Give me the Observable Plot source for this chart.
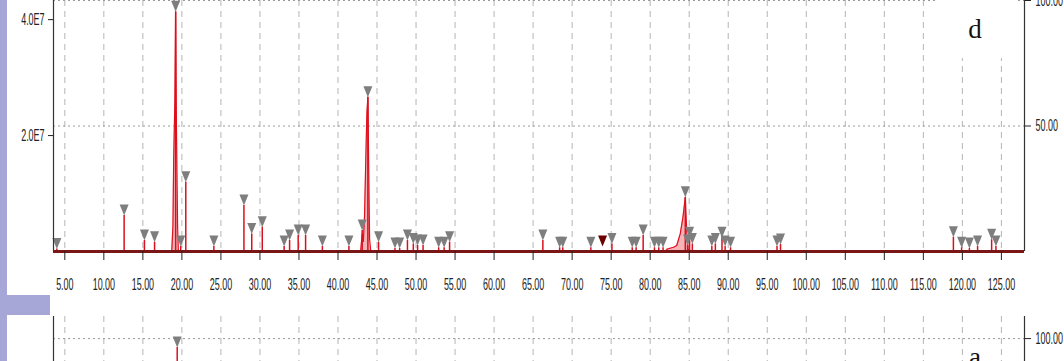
<!DOCTYPE html>
<html>
<head>
<meta charset="utf-8">
<script src="https://cdn.jsdelivr.net/npm/d3@7"></script>
<script src="https://cdn.jsdelivr.net/npm/@observablehq/plot@0.6"></script>
<style>
  html, body { margin: 0; padding: 0; background: #fff; }
  #stage { position: relative; width: 1064px; height: 361px; overflow: hidden; background: #fff; }
  .band { position: absolute; background: #a7a7d7; }
  .plotbox { position: absolute; left: 0; }
  .tag { position: absolute; font-family: "Liberation Serif", "Times New Roman", serif; font-size: 27px; line-height: 27px; color: #111; text-align: center; }
</style>
</head>
<body>
<div id="stage">
  <div class="band" style="left:0;top:0;width:7px;height:361px"></div>
  <div class="band" style="left:0;top:295px;width:50px;height:20px"></div>
  <div id="top" class="plotbox" style="top:-10px"></div>
  <div class="tag" style="left:935px;top:0;width:80px;height:58px;background:#fff"><span style="position:relative;top:16px">d</span></div>
  <div id="bottom" class="plotbox" style="top:312px"></div>
  <div class="tag" style="left:935px;top:344px;width:80px">a</div>
</div>
<script>
// ---------- data ----------
const fullScaleCounts = 4.33e7;            // counts at 100 % (right axis)
const xDomain = [3.55, 127.96];            // retention time, min
const xTickValues = [5,10,15,20,25,30,35,40,45,50,55,60,65,70,75,80,85,90,95,100,105,110,115,120,125];
const leftTickCounts = [2.0e7, 4.0e7];
const rightTickPct = [50, 100];

// peak apex (retention time, % of full scale) — each marked with a triangle
const peakRT  = [3.98, 12.6, 15.2, 16.5, 19.2, 19.85, 20.5, 24.1, 27.95, 28.95, 30.3, 33.1, 33.8, 34.9, 35.85, 38.0, 41.4, 43.1, 43.83, 45.2,
                 47.3, 47.9, 48.9, 49.65, 50.2, 50.9, 52.9, 53.6, 54.3, 66.25, 68.4, 68.8, 72.4, 75.1, 77.7, 78.2, 79.1, 80.55, 81.1, 81.65,
                 84.5, 84.8, 85.05, 85.4, 87.9, 88.35, 89.2, 89.6, 90.3, 96.25, 96.7, 118.85, 119.9, 120.9, 121.95, 123.75, 124.3];
const peakPct = [1.0, 14.3, 4.4, 3.7, 95.5, 2.0, 27.6, 2.0, 18.3, 7.0, 9.7, 2.0, 4.4, 6.4, 6.4, 2.0, 2.0, 8.4, 61.5, 3.7,
                 1.2, 1.2, 4.4, 3.0, 2.4, 2.4, 1.5, 1.5, 3.7, 4.4, 1.5, 1.5, 1.5, 3.0, 1.5, 1.5, 6.4, 1.5, 1.5, 1.5,
                 21.6, 2.4, 5.5, 3.0, 2.0, 3.0, 5.5, 2.0, 1.5, 2.0, 2.8, 5.7, 1.5, 1.2, 2.0, 4.7, 2.0];
// selected peak (dark marker)
const selectedRT  = [73.9];
const selectedPct = [2.0];

// traced profiles of the three wide peaks
const profile1RT  = [18.7, 18.85, 18.95, 19.1, 19.2, 19.3, 19.45, 19.55];
const profile1Pct = [0, 10, 37, 60, 95.5, 50, 10, 0];
const profile2RT  = [42.9, 43.1, 43.25, 43.4, 43.55, 43.7, 43.83, 43.95, 44.05, 44.2];
const profile2Pct = [0, 7, 4, 14, 35, 55, 61.5, 30, 5, 0];
const profile3RT  = [81.9, 82.2, 83.0, 83.4, 83.85, 84.2, 84.5, 84.7, 84.85, 85.0];
const profile3Pct = [0, 1.0, 1.7, 2.4, 7, 13.7, 21.6, 7, 1, 0];

// lower panel (only its top edge is visible)
const panel2RT  = [19.4];
const panel2Pct = [96.4];
const panel2Domain = [0, 108.8];
const panel2TickPct = [100];

// ---------- tables ----------
const peaks = peakRT.map((t, i) => ({t, p: peakPct[i]}));
const selected = selectedRT.map((t, i) => ({t, p: selectedPct[i]}));
const profiles = [
  ...profile1RT.map((t, i) => ({id: "a", t, p: profile1Pct[i]})),
  ...profile2RT.map((t, i) => ({id: "b", t, p: profile2Pct[i]})),
  ...profile3RT.map((t, i) => ({id: "c", t, p: profile3Pct[i]}))
];
const panel2 = panel2RT.map((t, i) => ({t, p: panel2Pct[i]}));

// downward triangle with its tip on the apex
const downTri = {
  draw(ctx) { ctx.moveTo(-4.5, -11); ctx.lineTo(4.5, -11); ctx.lineTo(0, 0); ctx.closePath(); }
};

const FS = 16;
const baseStyle = {fontFamily: "'Liberation Sans', Arial, sans-serif", fontSize: FS + "px", color: "#222", background: "transparent", overflow: "visible"};

const topPlot = Plot.plot({
  width: 1064, height: 305,
  marginTop: 10, marginBottom: 44, marginLeft: 53, marginRight: 40,
  x: {domain: xDomain, label: null},
  y: {domain: [0, 100], label: null},
  style: baseStyle,
  marks: [
    Plot.ruleX(xTickValues, {stroke: "#b5b5b5", strokeDasharray: "6,5"}),
    Plot.ruleY(rightTickPct, {stroke: "#9a9a9a", strokeDasharray: "2,3"}),
    Plot.areaY(profiles, {x: "t", y: "p", z: "id", fill: "#f6b4b9"}),
    Plot.lineY(profiles, {x: "t", y: "p", z: "id", stroke: "#e0101e", strokeWidth: 1.2}),
    Plot.ruleX(peaks, {x: "t", y1: 0, y2: "p", stroke: "#d8101e", strokeWidth: 1.5}),
    Plot.ruleY([0], {stroke: "#7a1616", strokeWidth: 3}),
    Plot.dot(peaks, {x: "t", y: "p", symbol: downTri, fill: "#7e7e7e"}),
    Plot.dot(selected, {x: "t", y: "p", symbol: downTri, fill: "#6a0000"}),
    Plot.ruleX(xDomain, {stroke: "#333", strokeWidth: 1.2}),
    Plot.axisY({anchor: "left", ticks: leftTickCounts.map(c => c / fullScaleCounts * 100),
      tickFormat: d => (d * fullScaleCounts / 100).toExponential(1).toUpperCase().replace("+", ""),
      tickSize: 5, tickPadding: 4, fontSize: FS}),
    Plot.axisY({anchor: "right", ticks: rightTickPct, tickFormat: d => d.toFixed(2), tickSize: 6, tickPadding: 5, fontSize: FS}),
    Plot.axisX({anchor: "bottom", ticks: xTickValues, tickFormat: d => d.toFixed(2), tickSize: 9, tickPadding: 18, fontSize: FS})
  ]
});
document.getElementById("top").appendChild(topPlot);

const bottomPlot = Plot.plot({
  width: 1064, height: 300,
  marginTop: 4, marginBottom: 23, marginLeft: 53, marginRight: 40,
  x: {domain: xDomain, label: null},
  y: {domain: panel2Domain, label: null},
  style: baseStyle,
  marks: [
    Plot.ruleX(xTickValues, {stroke: "#b5b5b5", strokeDasharray: "6,5"}),
    Plot.ruleY(panel2TickPct, {stroke: "#9a9a9a", strokeDasharray: "2,3"}),
    Plot.ruleX(panel2, {x: "t", y1: 0, y2: "p", stroke: "#e0101e", strokeWidth: 1.5}),
    Plot.dot(panel2, {x: "t", y: "p", symbol: downTri, fill: "#7e7e7e"}),
    Plot.ruleX(xDomain, {stroke: "#333", strokeWidth: 1.2}),
    Plot.axisY({anchor: "right", ticks: panel2TickPct, tickFormat: d => d.toFixed(2), tickSize: 6, tickPadding: 5, fontSize: FS})
  ]
});
document.getElementById("bottom").appendChild(bottomPlot);

// the screenshot's tick labels are horizontally condensed: squeeze each label about its anchor
const SVGNS = "http://www.w3.org/2000/svg";
for (const svg of [topPlot, bottomPlot]) {
  Array.from(svg.querySelectorAll("text")).forEach(t => {
    const r = t.getBoundingClientRect();
    if (!r.width) return;
    const anchor = getComputedStyle(t).textAnchor;
    const sx = anchor === "middle" ? r.left + r.width / 2 : anchor === "end" ? r.right : r.left;
    const p = svg.createSVGPoint(); p.x = sx; p.y = r.top;
    const lp = p.matrixTransform(t.parentNode.getScreenCTM().inverse());
    const g = document.createElementNS(SVGNS, "g");
    g.setAttribute("transform", `translate(${lp.x},0) scale(0.56,1) translate(${-lp.x},0)`);
    t.parentNode.insertBefore(g, t);
    g.appendChild(t);
  });
}
</script>
</body>
</html>
